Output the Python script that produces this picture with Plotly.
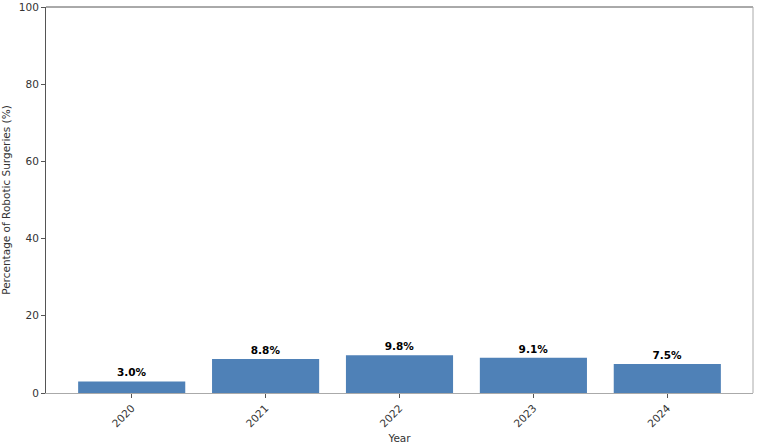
import plotly.graph_objects as go

years = ["2020", "2021", "2022", "2023", "2024"]
values = [3.0, 8.8, 9.8, 9.1, 7.5]
labels = ["3.0%", "8.8%", "9.8%", "9.1%", "7.5%"]
y_ticks = [0, 20, 40, 60, 80, 100]

fig = go.Figure()
fig.add_trace(go.Bar(
    x=list(range(len(years))), y=values, width=0.8,
    marker=dict(color="#4f81b7", line=dict(width=0)),
    text=labels, textposition="outside", cliponaxis=False,
    textfont=dict(family="DejaVu Sans", size=10.5, color="black", weight="bold"),
))
fig.update_layout(
    width=759, height=444,
    margin=dict(l=46, r=6, t=7, b=51),
    plot_bgcolor="white", paper_bgcolor="white",
    showlegend=False,
    font=dict(family="DejaVu Sans", size=10.5, color="#333"),
    xaxis=dict(
        range=[-0.64, 4.64], tickmode="array",
        tickvals=list(range(len(years))), ticktext=years,
        tickangle=-45, ticks="outside", ticklen=4, tickcolor="#555",
        showgrid=False, zeroline=False, automargin=False,
        showline=True, linecolor="#aaa", linewidth=1, mirror=False,
        title=dict(text="Year", standoff=6, font=dict(size=10.5)),
    ),
    yaxis=dict(
        range=[0, 100], tickmode="array", tickvals=y_ticks,
        ticks="outside", ticklen=4, tickcolor="#555",
        showgrid=False, zeroline=False, automargin=False,
        showline=True, linecolor="#555", linewidth=1,
        title=dict(text="Percentage of Robotic Surgeries (%)", standoff=8, font=dict(size=10.5)),
    ),
)
# top and right frame lines
fig.add_shape(type="line", xref="paper", yref="paper", x0=0, x1=1, y0=1, y1=1,
              line=dict(color="#555", width=1))
fig.add_shape(type="line", xref="paper", yref="paper", x0=1, x1=1, y0=0, y1=1,
              line=dict(color="#aaa", width=1))
fig.write_html("out.html")
